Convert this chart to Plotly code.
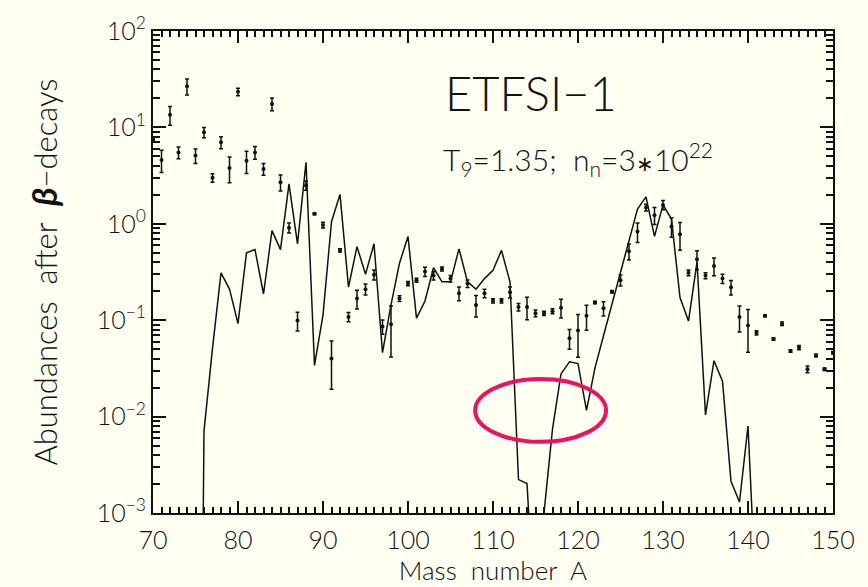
import plotly.graph_objects as go

# Observed abundances (solar r-process) with relative uncertainties
mass_obs = list(range(70, 151))
abund_obs = [
    7.6, 4.6, 13.5, 5.5, 26.7, 5.1, 8.9, 3.0, 7.0, 3.8,          # 70-79
    23.4, 4.5, 5.5, 3.7, 17.5, 2.7, 0.91, 0.099, 2.5, 1.27,      # 80-89
    0.97, 0.040, 0.53, 0.108, 0.168, 0.21, 0.297, 0.086, 0.091, 0.168,  # 90-99
    0.24, 0.26, 0.32, 0.29, 0.34, 0.27, 0.19, 0.24, 0.144, 0.19,  # 100-109
    0.159, 0.159, 0.195, 0.137, 0.137, 0.118, 0.118, 0.124, 0.135, 0.065,  # 110-119
    0.078, 0.111, 0.153, 0.133, 0.197, 0.26, 0.52, 0.83, 1.48, 1.23,  # 120-129
    1.57, 0.94, 0.78, 0.31, 0.43, 0.29, 0.365, 0.27, 0.22, 0.108,  # 130-139
    0.088, 0.074, 0.111, 0.064, 0.092, 0.048, 0.052, 0.031, 0.043, 0.031,  # 140-149
    0.046,                                                          # 150
]
rel_err_obs = [
    0.03, 0.26, 0.22, 0.14, 0.19, 0.17, 0.12, 0.10, 0.14, 0.30,
    0.09, 0.26, 0.15, 0.14, 0.15, 0.19, 0.12, 0.22, 0.11, 0.02,
    0.07, 0.52, 0.04, 0.11, 0.22, 0.13, 0.12, 0.17, 0.545, 0.07,
    0.05, 0.05, 0.11, 0.10, 0.05, 0.08, 0.16, 0.09, 0.25, 0.10,
    0.05, 0.05, 0.13, 0.09, 0.26, 0.08, 0.05, 0.06, 0.22, 0.23,
    0.47, 0.29, 0.03, 0.17, 0.03, 0.13, 0.19, 0.23, 0.08, 0.20,
    0.11, 0.23, 0.32, 0.07, 0.22, 0.07, 0.21, 0.11, 0.17, 0.30,
    0.47, 0.05, 0.02, 0.03, 0.04, 0.03, 0.05, 0.08, 0.03, 0.03,
    0.03,
]

# Calculated abundances after beta-decays (ETFSI-1 mass model)
mass_calc = list(range(75, 142))
abund_calc = [
    1e-12, 0.0071, 0.051, 0.31, 0.21, 0.092, 0.50, 0.54, 0.187, 0.85,   # 75-84
    0.54, 2.6, 0.62, 4.35, 0.034, 0.113, 1.05, 2.02, 0.22, 0.58,        # 85-94
    0.30, 0.62, 0.046, 0.144, 0.39, 0.74, 0.105, 0.158, 0.35, 0.25,     # 95-104
    0.25, 0.55, 0.25, 0.21, 0.27, 0.33, 0.53, 0.25, 0.00222, 0.00202,   # 105-114
    6e-5, 0.001, 0.0074, 0.0277, 0.037, 0.0355, 0.0116, 0.032, 0.069, 0.148,  # 115-124
    0.316, 0.66, 1.42, 1.9, 0.74, 1.57, 1.12, 0.172, 0.098, 0.40,      # 125-134
    0.0104, 0.038, 0.0233, 0.00213, 0.0013, 0.008, 1e-4,               # 135-141
]

y_tick_vals = [1e-3, 1e-2, 1e-1, 1e0, 1e1, 1e2]
y_tick_text = ["10<sup>−3</sup>", "10<sup>−2</sup>", "10<sup>−1</sup>",
               "10<sup>0</sup>", "10<sup>1</sup>", "10<sup>2</sup>"]
y_minor_vals = [k * 10.0 ** e for e in range(-3, 2) for k in range(2, 10)]

FONT = "Lato"
BG = "#FFFFF2"
INK = "#111111"
HIGHLIGHT = "#F0105E"
SP = "\u00a0"

err_abs = [v * f for v, f in zip(abund_obs, rel_err_obs)]

fig = go.Figure()

fig.add_trace(go.Scatter(
    x=mass_calc, y=abund_calc, mode="lines",
    line=dict(color=INK, width=1.5),
    showlegend=False, hoverinfo="skip",
))

fig.add_trace(go.Scatter(
    x=mass_obs, y=abund_obs, mode="markers",
    marker=dict(color=INK, size=4),
    error_y=dict(type="data", array=err_abs, visible=True,
                 color=INK, thickness=1.5, width=2),
    showlegend=False, cliponaxis=False,
))

# Highlight of the A~115 underproduction trough
fig.add_shape(
    type="circle", xref="x", yref="y",
    x0=107.9, x1=123.3, y0=0.00547, y1=0.0245,
    line=dict(color=HIGHLIGHT, width=4),
)

fig.add_annotation(
    xref="paper", yref="paper", x=0.556, y=0.872,
    text="ETFSI−1", showarrow=False,
    font=dict(family=FONT, size=47, color=INK, weight=300),
    xanchor="center", yanchor="middle",
)
fig.add_annotation(
    xref="paper", yref="paper", x=0.625, y=0.735,
    text=(f"T<sub>9</sub>=1.35;{SP}{SP}n<sub>n</sub>=3"
          "<span style=\"font-size:21px\">∗</span>"
          "10<sup>22</sup>"),
    showarrow=False,
    font=dict(family=FONT, size=30, color=INK, weight=300),
    xanchor="center", yanchor="middle",
)

axis_common = dict(
    showline=True, linecolor=INK, linewidth=2, mirror="allticks",
    ticks="inside", tickcolor=INK, tickwidth=1.5,
    showgrid=False, zeroline=False,
    tickfont=dict(family=FONT, size=25, color=INK, weight=300),
)

fig.update_xaxes(
    **axis_common,
    range=[70, 150], tickmode="linear", tick0=70, dtick=10, ticklen=12,
    ticklabelstandoff=4,
    minor=dict(ticks="inside", ticklen=6, dtick=1, tickcolor=INK, tickwidth=1.5),
    title=dict(text=f"Mass{SP}{SP}number{SP}{SP}A", standoff=0,
               font=dict(family=FONT, size=26, color=INK, weight=300)),
)
fig.update_yaxes(
    **axis_common,
    type="log", range=[-3, 2],
    tickmode="array", tickvals=y_tick_vals, ticktext=y_tick_text, ticklen=13,
    minor=dict(ticks="inside", ticklen=7, tickmode="array", tickvals=y_minor_vals,
               tickcolor=INK, tickwidth=1.5),
    title=dict(
        text=(f"Abundances{SP}{SP}after{SP}{SP}"
              "<span style=\"font-size:35px\"><b><i>β</i></b></span>−decays"),
        standoff=30,
        font=dict(family=FONT, size=31, color=INK, weight=300)),
)

fig.update_layout(
    width=868, height=587,
    margin=dict(l=153, r=35, t=27, b=74),
    paper_bgcolor=BG, plot_bgcolor=BG,
    font=dict(family=FONT, color=INK),
)

fig.write_html("out.html")
